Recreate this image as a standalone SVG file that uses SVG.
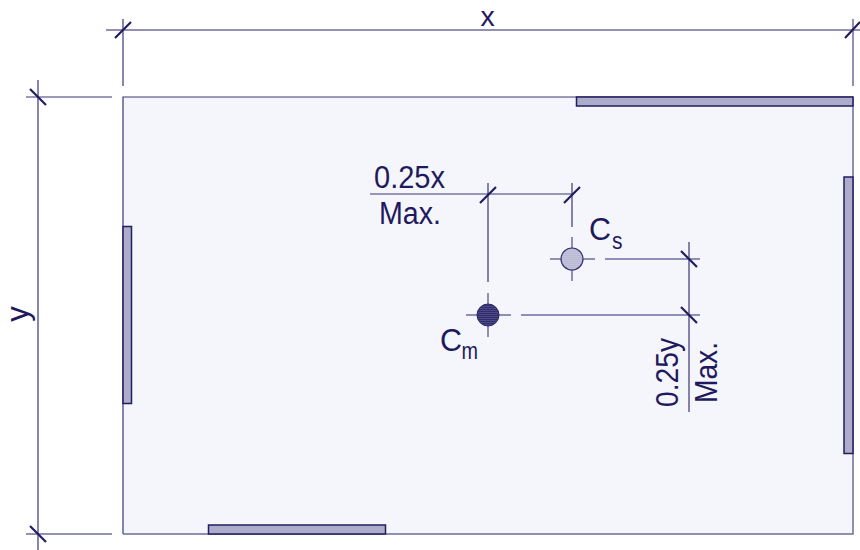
<svg xmlns="http://www.w3.org/2000/svg" width="860" height="550" viewBox="0 0 860 550">
<style>
.t{font-family:"Liberation Sans",Arial,sans-serif;fill:#1f1a5e;font-size:31px}
.sub{font-size:23px}
.top{font-size:28.500px}
.l{stroke:#3a3678;stroke-width:1.2;fill:none}
.g{stroke:#6f6c9d;stroke-width:1.5;fill:none}
.k{stroke:#221d60;stroke-width:2.2;fill:none}
.wall{fill:#adadcb;stroke:#221d60;stroke-width:1.5}
</style>
<defs>
<pattern id="hd" width="3" height="2" patternUnits="userSpaceOnUse"><rect width="3" height="2" fill="#2f2b6c"/><rect width="3" height="0.7" fill="#5a5790"/></pattern>
<pattern id="hl" width="3" height="2" patternUnits="userSpaceOnUse"><rect width="3" height="2" fill="#b9b9d4"/><rect width="3" height="0.7" fill="#c8c8de"/></pattern>
</defs>
<g id="plan"><rect x="123" y="97" width="730" height="437" fill="#f5f6fb"/><path class="l" d="M123 534V97H853"/><path class="g" d="M853 97V534H123"/></g>
<g id="walls">
<rect id="wall-top" class="wall" x="576.5" y="97" width="276.5" height="9"/>
<rect id="wall-right" class="wall" x="844" y="177" width="9" height="276.5"/>
<rect id="wall-left" class="wall" x="123" y="226.500" width="8.500" height="177"/>
<rect id="wall-bottom" class="wall" x="208.500" y="525" width="177" height="9"/>
</g>
<g id="connectors">
<path class="g" d="M106 30H860M853 19V86"/>
<path class="l" d="M123 19V86M38 80V550M26 97H112"/>
<path class="g" d="M26 534H112"/>
<path class="l" d="M370 194H573M488 183V282M572 183V227M689 242V412"/>
<path class="g" d="M605 259H700M521 315H700M550 259H595M572 237V281M466 315H511M488 293V337"/>
<path class="k" d="M115 38L131 22M845 38L860 22M30 89L46 105M30 526L46 542"/>
<path class="k" d="M480 203L496 187M564 203L580 187M681 251L697 267M681 307L697 323"/>
</g>
<g id="cs"><circle cx="572" cy="259" r="11" fill="url(#hl)" stroke="#34306f" stroke-width="1.2"/>
<text class="t" x="589" y="240" textLength="22" lengthAdjust="spacingAndGlyphs">C</text><text class="t sub" x="612" y="248.500" textLength="10.500" lengthAdjust="spacingAndGlyphs">s</text></g>
<g id="cm"><circle cx="488" cy="315" r="11" fill="url(#hd)" stroke="#2a2668" stroke-width="1"/>
<text class="t" x="440" y="351" textLength="22" lengthAdjust="spacingAndGlyphs">C</text><text class="t sub" x="461.500" y="359" textLength="16.500" lengthAdjust="spacingAndGlyphs">m</text></g>
<g id="labels">
<text class="t top" x="487.500" y="26" text-anchor="middle">x</text>
<text class="t" transform="translate(28,314) rotate(-90)" text-anchor="middle">y</text>
<text class="t" x="374" y="188" textLength="71" lengthAdjust="spacingAndGlyphs">0.25x</text>
<text class="t" x="379" y="224" textLength="62" lengthAdjust="spacingAndGlyphs">Max.</text>
<text class="t" transform="translate(678,407) rotate(-90)" textLength="69" lengthAdjust="spacingAndGlyphs">0.25y</text>
<text class="t" transform="translate(717,403) rotate(-90)" textLength="61" lengthAdjust="spacingAndGlyphs">Max.</text>
</g>
</svg>
